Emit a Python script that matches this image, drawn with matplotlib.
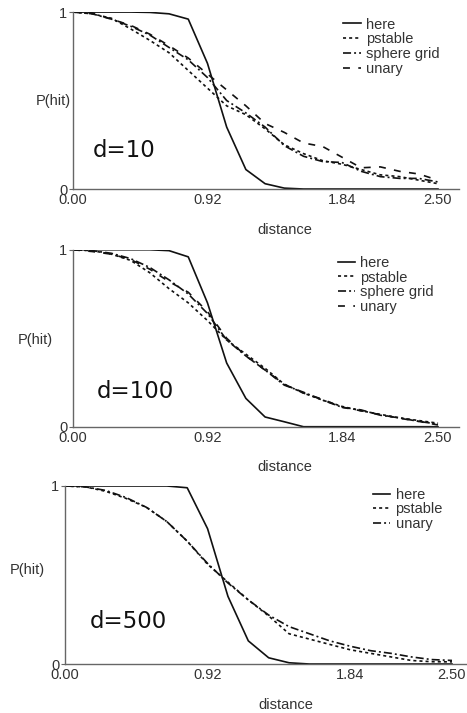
import matplotlib
matplotlib.use("Agg")
import matplotlib.pyplot as plt
import numpy as np

plt.rcParams['font.family'] = ['Liberation Sans', 'DejaVu Sans']
plt.rcParams['lines.scale_dashes'] = False

# 20 samples from 0 to 2.5 (0.92 and 1.84 are samples 7 and 14)
distance = np.linspace(0, 2.5, 20)
xticks = [0.0, 0.92, 1.84, 2.50]
xticklabels = ["0.00", "0.92", "1.84", "2.50"]

# d=10
here_10 = [1, 1, 1, 1, 0.998, 0.99, 0.96, 0.71, 0.35, 0.11, 0.03, 0.005, 0, 0, 0, 0, 0, 0, 0, 0]
pstable_10 = [1, 0.99, 0.965, 0.905, 0.84, 0.77, 0.67, 0.57, 0.47, 0.42, 0.34, 0.25, 0.20, 0.16,
              0.14, 0.11, 0.08, 0.07, 0.05, 0.03]
sphere_10 = [1, 0.99, 0.96, 0.92, 0.87, 0.80, 0.73, 0.63, 0.50, 0.43, 0.35, 0.245, 0.185, 0.155,
             0.15, 0.10, 0.07, 0.06, 0.06, 0.04]
unary_10 = [1, 0.995, 0.96, 0.925, 0.875, 0.81, 0.74, 0.65, 0.56, 0.47, 0.37, 0.32, 0.26, 0.24,
            0.18, 0.12, 0.125, 0.10, 0.085, 0.05]

# d=100
here_100 = [1, 1, 1, 1, 1, 0.995, 0.96, 0.70, 0.36, 0.16, 0.055, 0.028, 0, 0, 0, 0, 0, 0, 0, 0]
pstable_100 = [1, 0.995, 0.975, 0.94, 0.87, 0.78, 0.70, 0.60, 0.49, 0.41, 0.33, 0.24, 0.19, 0.15,
               0.115, 0.09, 0.07, 0.05, 0.035, 0.02]
sphere_100 = [1, 0.995, 0.98, 0.95, 0.90, 0.83, 0.75, 0.64, 0.49, 0.40, 0.32, 0.235, 0.195, 0.15,
              0.11, 0.095, 0.065, 0.05, 0.03, 0.015]
unary_100 = [1, 0.99, 0.975, 0.945, 0.89, 0.82, 0.76, 0.65, 0.50, 0.40, 0.32, 0.24, 0.19, 0.155,
             0.11, 0.09, 0.068, 0.048, 0.03, 0.01]

# d=500
here_500 = [1, 1, 1, 1, 1, 1, 0.99, 0.76, 0.38, 0.13, 0.035, 0.007, 0, 0, 0, 0, 0, 0, 0, 0]
pstable_500 = [1, 0.995, 0.97, 0.93, 0.88, 0.80, 0.69, 0.56, 0.46, 0.36, 0.27, 0.17, 0.14, 0.11,
               0.08, 0.06, 0.04, 0.02, 0.013, 0.012]
unary_500 = [1, 0.995, 0.975, 0.935, 0.88, 0.80, 0.69, 0.565, 0.455, 0.36, 0.275, 0.21, 0.17, 0.13,
             0.10, 0.075, 0.06, 0.04, 0.025, 0.02]

solid = dict(color='#111111', lw=1.2)
dotted = dict(color='#111111', lw=1.2, dashes=(2.2, 2.2))
dashdot = dict(color='#111111', lw=1.2, dashes=(5.8, 2.2, 1.4, 2.2))
longdash = dict(color='#111111', lw=1.2, dashes=(5.0, 6.0))

fig = plt.figure(figsize=(4.67, 7.13), dpi=100)

panels = [
    # axes rect, xmax, label, text pos, legend pos, ylabel pos, series
    ([0.1563, 0.7349, 0.8266, 0.2482], 2.644, "d=10", (0.052, 0.18), (0.70, 0.969), (-0.005, 0.50),
     [(here_10, "here", solid), (pstable_10, "pstable", dotted),
      (sphere_10, "sphere grid", dashdot), (unary_10, "unary", longdash)]),
    ([0.1563, 0.4015, 0.8266, 0.2482], 2.644, "d=100", (0.062, 0.16), (0.686, 0.966), (-0.052, 0.49),
     [(here_100, "here", solid), (pstable_100, "pstable", dotted),
      (sphere_100, "sphere grid", dashdot), (unary_100, "unary", longdash)]),
    ([0.1392, 0.0687, 0.8608, 0.2497], 2.597, "d=500", (0.062, 0.20), (0.766, 0.99), (-0.05, 0.53),
     [(here_500, "here", solid), (pstable_500, "pstable", dotted),
      (unary_500, "unary", dashdot)]),
]

for rect, xmax, name, tpos, lpos, ypos, series in panels:
    ax = fig.add_axes(rect)
    for vals, lab, style in series:
        ax.plot(distance, vals, label=lab, **style)
    ax.set_xlim(0, xmax)
    ax.set_ylim(0, 1)
    ax.set_xticks(xticks)
    ax.set_xticklabels(xticklabels)
    ax.set_yticks([0, 1])
    ax.set_yticklabels(["0", "1"])
    for s in ['top', 'right']:
        ax.spines[s].set_visible(False)
    for s in ['left', 'bottom']:
        ax.spines[s].set_color('#666666')
        ax.spines[s].set_linewidth(1.0)
    ax.tick_params(axis='x', length=0, pad=3, labelsize=10.5, labelcolor='#333333')
    ax.tick_params(axis='y', length=3, pad=1, width=0.8, color='#666666',
                   labelsize=10.5, labelcolor='#333333')
    ax.set_xlabel("distance", fontsize=10.5, color='#333333', va='top')
    ax.xaxis.set_label_coords(0.55, -0.19)
    ax.set_ylabel("P(hit)", fontsize=10.5, color='#333333', rotation=0, ha='right', va='center')
    ax.yaxis.set_label_coords(*ypos)
    ax.text(tpos[0], tpos[1], name, transform=ax.transAxes, fontsize=16.5,
            family='DejaVu Sans', color='#111111')
    ax.legend(loc='upper left', bbox_to_anchor=lpos, frameon=False, fontsize=10.5,
              handlelength=1.2, handletextpad=0.35, labelspacing=0.05,
              borderpad=0, borderaxespad=0, labelcolor='#333333')

fig.savefig("out.png", dpi=100)
